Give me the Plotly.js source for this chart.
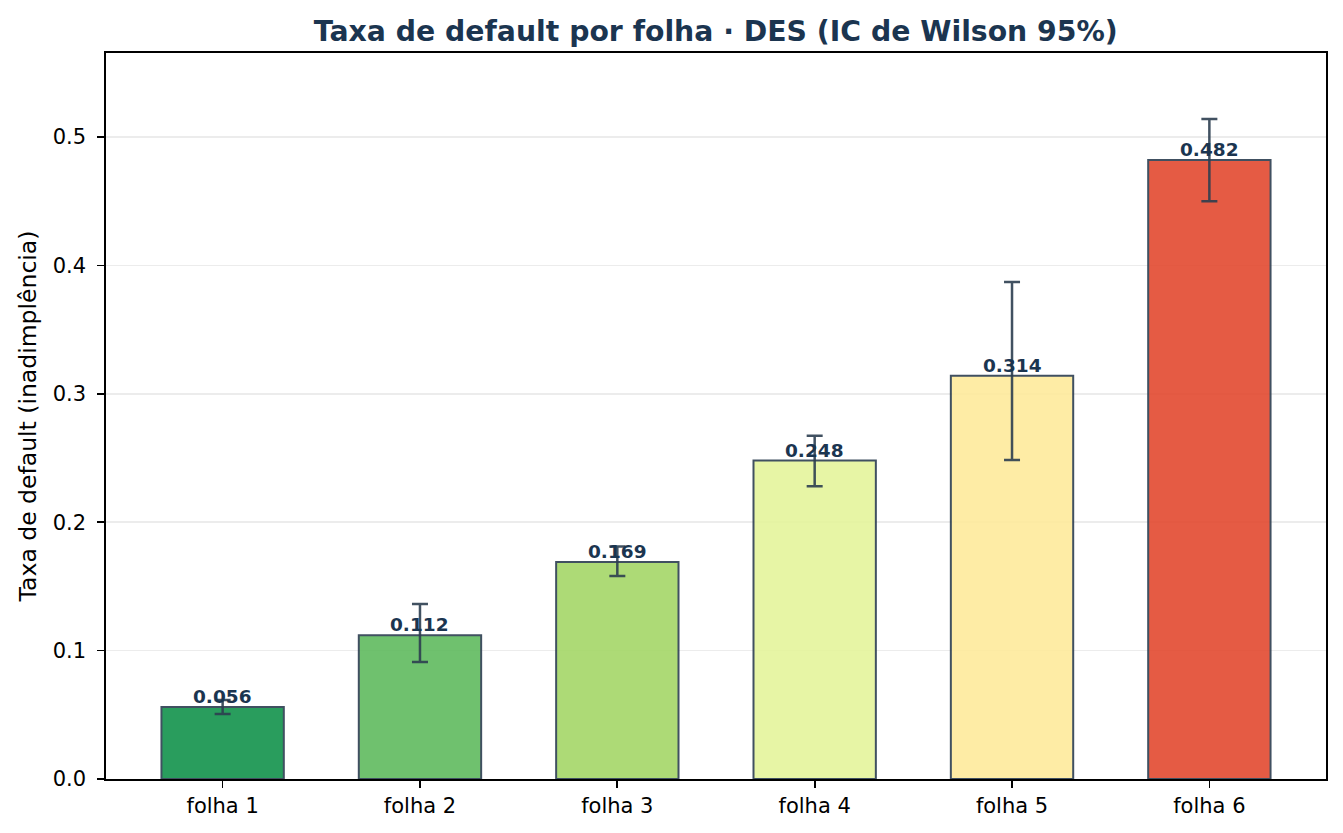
<!DOCTYPE html>
<html>
<head>
<meta charset="utf-8">
<script src="https://cdn.plot.ly/plotly-3.0.1.min.js"></script>
<style>
  html, body { margin: 0; padding: 0; background: white; }
  #chart { width: 1343px; height: 833px; }
</style>
</head>
<body>
<div id="chart"></div>
<script>
// data
const leaves = ['folha 1', 'folha 2', 'folha 3', 'folha 4', 'folha 5', 'folha 6'];
const defaultRate = [0.056, 0.112, 0.169, 0.248, 0.314, 0.482];
const ciLow = [0.0506, 0.0911, 0.158, 0.228, 0.2484, 0.450];
const ciHigh = [0.0615, 0.1363, 0.181, 0.2673, 0.387, 0.514];
const barColors = [
  'rgb(18,147,76)', 'rgb(96,187,95)', 'rgb(165,215,104)',
  'rgb(229,244,156)', 'rgb(254,234,156)', 'rgb(227,74,48)'
];
const rateLabels = defaultRate.map(v => v.toFixed(3));

const FONT = 'DejaVu Sans, sans-serif';
const NAVY = '#1b3550';

const barTrace = {
  type: 'bar',
  x: leaves,
  y: defaultRate,
  width: 0.62,
  marker: {
    color: barColors,
    opacity: 0.9,
    line: { color: 'rgb(44,62,80)', width: 2 }
  },
  error_y: {
    type: 'data',
    symmetric: false,
    array: ciHigh.map((h, i) => h - defaultRate[i]),
    arrayminus: ciLow.map((l, i) => defaultRate[i] - l),
    color: 'rgba(44,62,80,0.9)',
    thickness: 2.5,
    width: 8
  },
  hoverinfo: 'x+y'
};

const labelAnnotations = leaves.map((leaf, i) => ({
  x: leaf,
  y: defaultRate[i],
  xref: 'x',
  yref: 'y',
  text: rateLabels[i],
  showarrow: false,
  yanchor: 'bottom',
  xanchor: 'center',
  yshift: -2,
  font: { family: FONT, size: 18.5, color: NAVY, weight: 'bold' }
}));

const layout = {
  width: 1343,
  height: 833,
  margin: { l: 106, r: 17, t: 53, b: 54 },
  paper_bgcolor: 'white',
  plot_bgcolor: 'white',
  showlegend: false,
  title: {
    text: '<b>Taxa de default por folha · DES (IC de Wilson 95%)</b>',
    font: { family: FONT, size: 28.3, color: NAVY },
    x: 0.533,
    xanchor: 'center',
    y: 0.963,
    yanchor: 'middle'
  },
  xaxis: {
    type: 'category',
    range: [-0.591, 5.591],
    showline: true,
    linecolor: 'black',
    linewidth: 1.7,
    mirror: true,
    ticks: 'outside',
    ticklen: 7,
    tickwidth: 1.7,
    tickcolor: 'black',
    showgrid: false,
    zeroline: false,
    tickfont: { family: FONT, size: 21, color: 'black' }
  },
  yaxis: {
    range: [0, 0.5654],
    dtick: 0.1,
    tick0: 0,
    tickformat: '.1f',
    showline: true,
    linecolor: 'black',
    linewidth: 1.7,
    mirror: true,
    ticks: 'outside',
    ticklen: 7,
    tickwidth: 1.7,
    tickcolor: 'black',
    ticklabelstandoff: 7,
    showgrid: true,
    gridcolor: '#ececec',
    gridwidth: 1.5,
    zeroline: false,
    tickfont: { family: FONT, size: 21, color: 'black' },
    title: {
      text: 'Taxa de default (inadimplência)',
      font: { family: FONT, size: 23.5, color: 'black' },
      standoff: 9
    }
  },
  annotations: labelAnnotations
};

Plotly.newPlot('chart', [barTrace], layout, { displayModeBar: false, staticPlot: true });
</script>
</body>
</html>
